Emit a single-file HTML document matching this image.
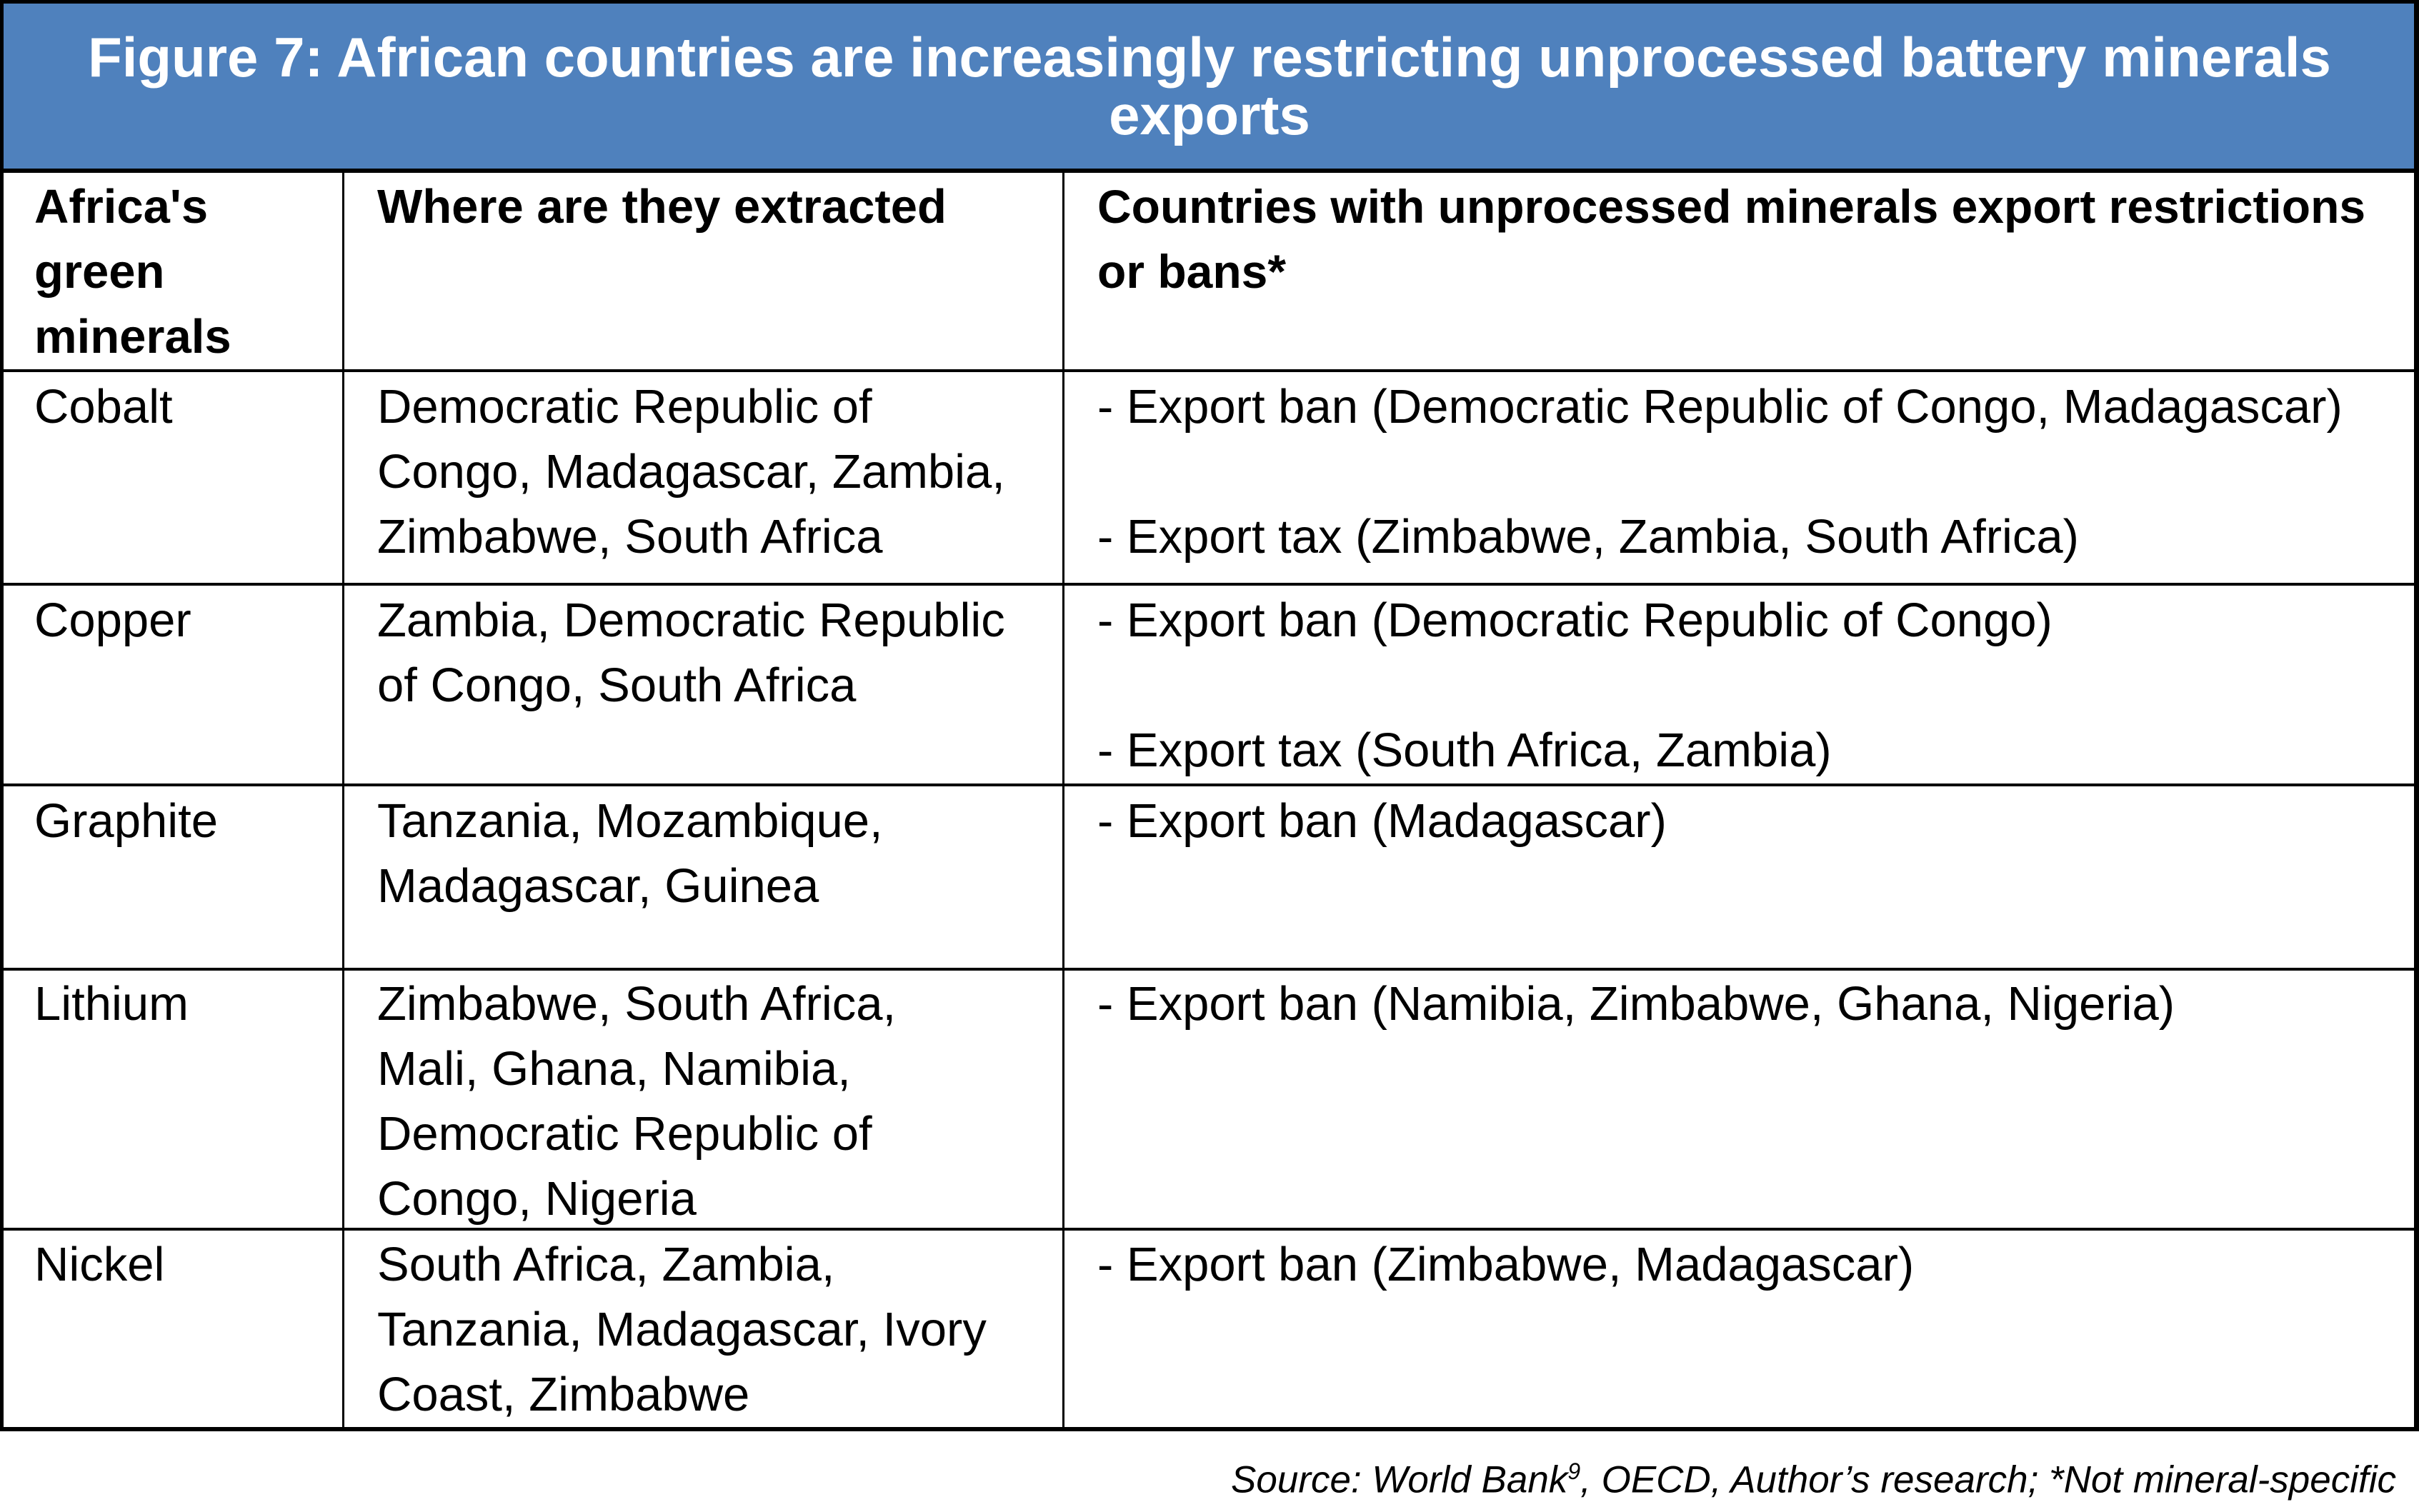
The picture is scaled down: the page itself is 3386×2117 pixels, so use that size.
<!DOCTYPE html>
<html><head><meta charset="utf-8"><style>
body{margin:0;width:3386px;height:2117px;background:#fff;position:relative;overflow:hidden;font-family:"Liberation Sans",sans-serif;}
.t{position:absolute;font-size:67px;line-height:91px;color:#000;white-space:nowrap;}
.b{font-weight:bold;}
.h{position:absolute;background:#000;}
</style></head><body>
<div style="position:absolute;left:0;top:0;width:3386px;height:239px;background:#4F81BD;"></div>
<div class="t b" style="left:0;width:3386px;top:40px;text-align:center;color:#fff;font-size:78px;line-height:81px;">Figure 7: African countries are increasingly restricting unprocessed battery minerals<br>exports</div>
<div class="h" style="left:0;top:0;width:3386px;height:5px"></div>
<div class="h" style="left:0;top:236px;width:3386px;height:6px"></div>
<div class="h" style="left:0;top:517px;width:3386px;height:4px"></div>
<div class="h" style="left:0;top:816px;width:3386px;height:4px"></div>
<div class="h" style="left:0;top:1097px;width:3386px;height:4px"></div>
<div class="h" style="left:0;top:1355px;width:3386px;height:4px"></div>
<div class="h" style="left:0;top:1719px;width:3386px;height:4px"></div>
<div class="h" style="left:0;top:1998px;width:3386px;height:6px"></div>
<div class="h" style="left:0;top:0;width:5px;height:2004px"></div>
<div class="h" style="left:479px;top:239px;width:3px;height:1762px"></div>
<div class="h" style="left:1487px;top:239px;width:3px;height:1762px"></div>
<div class="h" style="left:3379px;top:0;width:7px;height:2004px"></div>
<div class="t b" style="left:48px;top:244px">Africa's<br>green<br>minerals</div>
<div class="t b" style="left:528px;top:244px">Where are they extracted</div>
<div class="t b" style="left:1536px;top:244px;font-size:66px">Countries with unprocessed minerals export restrictions<br>or bans*</div>
<div class="t" style="left:48px;top:524px">Cobalt</div>
<div class="t" style="left:528px;top:524px">Democratic Republic of<br>Congo, Madagascar, Zambia,<br>Zimbabwe, South Africa</div>
<div class="t" style="left:1536px;top:524px">- Export ban (Democratic Republic of Congo, Madagascar)<br><br>- Export tax (Zimbabwe, Zambia, South Africa)</div>
<div class="t" style="left:48px;top:823px">Copper</div>
<div class="t" style="left:528px;top:823px">Zambia, Democratic Republic<br>of Congo, South Africa</div>
<div class="t" style="left:1536px;top:823px">- Export ban (Democratic Republic of Congo)<br><br>- Export tax (South Africa, Zambia)</div>
<div class="t" style="left:48px;top:1104px">Graphite</div>
<div class="t" style="left:528px;top:1104px">Tanzania, Mozambique,<br>Madagascar, Guinea</div>
<div class="t" style="left:1536px;top:1104px">- Export ban (Madagascar)</div>
<div class="t" style="left:48px;top:1360px">Lithium</div>
<div class="t" style="left:528px;top:1360px">Zimbabwe, South Africa,<br>Mali, Ghana, Namibia,<br>Democratic Republic of<br>Congo, Nigeria</div>
<div class="t" style="left:1536px;top:1360px">- Export ban (Namibia, Zimbabwe, Ghana, Nigeria)</div>
<div class="t" style="left:48px;top:1725px">Nickel</div>
<div class="t" style="left:528px;top:1725px">South Africa, Zambia,<br>Tanzania, Madagascar, Ivory<br>Coast, Zimbabwe</div>
<div class="t" style="left:1536px;top:1725px">- Export ban (Zimbabwe, Madagascar)</div>
<div class="t" style="right:32px;top:2020px;font-style:italic;font-size:53px;line-height:80px;">Source: World Bank<sup style="font-size:32px">9</sup>, OECD, Author’s research; *Not mineral-specific</div>
</body></html>
